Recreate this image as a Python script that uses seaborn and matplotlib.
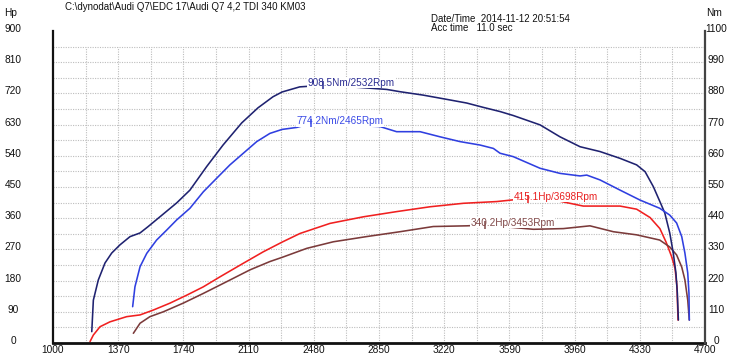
import numpy as np
import pandas as pd
import matplotlib
matplotlib.use("Agg")
import matplotlib.pyplot as plt
from matplotlib.transforms import ScaledTranslation
import seaborn as sns

# ---------------- data ----------------
# tuned torque (Nm)
rpm_tq_tuned = [1220, 1229, 1257, 1295, 1333, 1380, 1437, 1494, 1539, 1607, 1702, 1777, 1872,
                1965, 2071, 2163, 2248, 2300, 2400, 2532, 2674, 2894, 2969, 3100, 3234, 3348,
                3440, 3537, 3612, 3764, 3877, 3991, 4104, 4218, 4312, 4360, 4407, 4450, 4472,
                4500, 4520, 4535, 4543, 4549]
nm_tuned = [40, 151, 222, 282, 317, 346, 375, 388, 410, 445, 494, 539, 622,
            698, 776, 829, 868, 885, 903, 908.5, 904, 894, 886, 874, 859, 846,
            831, 816, 802, 769, 727, 692, 675, 651, 628, 604, 551, 490, 458,
            388, 317, 247, 176, 81]

# stock torque (Nm)
rpm_tq_stock = [1452, 1465, 1494, 1532, 1588, 1645, 1702, 1777, 1853, 1929, 2004, 2080, 2156,
                2231, 2300, 2383, 2465, 2647, 2856, 2950, 3083, 3196, 3310, 3423, 3499, 3537,
                3612, 3764, 3877, 3991, 4029, 4104, 4218, 4331, 4443, 4500, 4539, 4568, 4586,
                4602, 4609, 4611]
nm_stock = [128, 198, 269, 316, 363, 398, 434, 475, 533, 581, 628, 669, 710,
            739, 753, 760, 774.2, 769, 763, 745, 745, 727, 710, 698, 686, 669,
            657, 616, 598, 589, 592, 575, 539, 504, 475, 451, 423, 375, 317,
            247, 176, 81]

# tuned power (Hp)
rpm_hp_tuned = [1210, 1229, 1267, 1323, 1418, 1494, 1569, 1664, 1759, 1853, 1948, 2080, 2193,
                2300, 2402, 2572, 2761, 2950, 3140, 3329, 3518, 3612, 3698, 3839, 4009, 4218,
                4312, 4388, 4444, 4480, 4510, 4530, 4541, 4547]
hp_tuned = [4, 23, 47, 61, 76, 81, 95, 115, 138, 162, 191, 230, 263,
            291, 316, 345, 364, 379, 393, 403, 408, 413, 415.1, 413, 395, 395,
            386, 362, 330, 290, 250, 215, 162, 66]

# stock power (Hp)
rpm_hp_stock = [1456, 1494, 1550, 1626, 1739, 1853, 1986, 2118, 2231, 2300, 2440, 2591, 2780,
                2969, 3158, 3348, 3453, 3594, 3726, 3896, 4047, 4180, 4312, 4443, 4500, 4539,
                4568, 4586, 4602, 4611]
hp_stock = [28, 57, 76, 90, 115, 143, 177, 211, 235, 247, 273, 292, 307,
            321, 336, 338, 340.2, 334, 328, 330, 338, 321, 312, 297, 277, 254,
            219, 182, 124, 66]

# peak annotations
peak_nm_vals = [908.5, 774.2]
peak_nm_rpms = [2532, 2465]
peak_hp_vals = [415.1, 340.2]
peak_hp_rpms = [3698, 3453]

x_ticks = [1000, 1370, 1740, 2110, 2480, 2850, 3220, 3590, 3960, 4330, 4700]
hp_ticks = [0, 90, 180, 270, 360, 450, 540, 630, 720, 810, 900]
nm_ticks = [0, 110, 220, 330, 440, 550, 660, 770, 880, 990, 1100]

title_text = "C:\\dynodat\\Audi Q7\\EDC 17\\Audi Q7 4,2 TDI 340 KM03"
date_text = "Date/Time  2014-11-12 20:51:54"
acc_text = "Acc time   11.0 sec"

# ---------------- style ----------------
sns.set_style("white")
plt.rcParams['font.family'] = ['Liberation Sans', 'DejaVu Sans']

c_navy = '#1f2270'
c_blue = '#2f3fe0'
c_red = '#f02020'
c_brown = '#7b3a3a'
t_navy = '#2a2c92'
t_blue = '#3a4ae6'
t_red = '#e82020'
t_brown = '#804848'

fig = plt.figure(figsize=(7.4, 3.58), dpi=100)
ax = fig.add_axes([53/740, 15/358, 652/740, 312/358])
ax2 = ax.twinx()

ax.set_xlim(1000, 4700)
ax.set_ylim(0, 900)
ax2.set_ylim(0, 1100)

# grid (dotted)
grid_kw = dict(colors='#bdbdbd', linestyles=(0, (1, 1.2)), linewidth=0.8, zorder=0.5)
ax.hlines(np.arange(45, 900, 45), 1000, 4700, **grid_kw)
ax.vlines(np.arange(1185, 4700, 185), 0, 855, **grid_kw)

lw = 1.15
sns.lineplot(x=rpm_hp_tuned, y=hp_tuned, ax=ax, color=c_red, lw=lw, estimator=None, sort=False, zorder=2)
sns.lineplot(x=rpm_hp_stock, y=hp_stock, ax=ax, color=c_brown, lw=lw, estimator=None, sort=False, zorder=2)
sns.lineplot(x=rpm_tq_tuned, y=nm_tuned, ax=ax2, color=c_navy, lw=lw, estimator=None, sort=False, zorder=2)
sns.lineplot(x=rpm_tq_stock, y=nm_stock, ax=ax2, color=c_blue, lw=lw, estimator=None, sort=False, zorder=2)

# annotations
for axx, vals, rpms, unit, cols in [
        (ax2, peak_nm_vals, peak_nm_rpms, 'Nm', [t_navy, t_blue]),
        (ax, peak_hp_vals, peak_hp_rpms, 'Hp', [t_red, t_brown])]:
    for v, r, c in zip(vals, rpms, cols):
        axx.annotate(f"{v}{unit}/{r}Rpm", xy=(r, v), xytext=(-10.8, 1.8),
                     textcoords='offset points', ha='left', va='center',
                     fontsize=7.2, color=c, zorder=5,
                     bbox=dict(fc='white', ec='none', pad=0.4))
        axx.plot([r], [v], marker='|', ms=6, mew=1.1, color=c, zorder=6, ls='none')

# axes / ticks
ax.set_xticks(x_ticks)
ax.set_xticklabels([str(t) for t in x_ticks])
ax.set_yticks(hp_ticks)
ax.set_yticklabels([str(t) for t in hp_ticks])
ax2.set_yticks(nm_ticks)
ax2.set_yticklabels([str(t) for t in nm_ticks])
ax.set_xlabel('')
ax.set_ylabel('')
ax2.set_ylabel('')

ax.tick_params(axis='x', length=0, pad=1.5, labelsize=7.3, colors='#111111')
ax.tick_params(axis='y', length=0, pad=28.8, labelsize=7.3, colors='#111111')
ax2.tick_params(axis='y', length=0, pad=7.9, labelsize=7.3, colors='#111111')

off = ScaledTranslation(0, 0.03, fig.dpi_scale_trans)
for lab in ax.get_yticklabels():
    lab.set_horizontalalignment('center')
    lab.set_transform(lab.get_transform() + off)
for lab in ax2.get_yticklabels():
    lab.set_horizontalalignment('center')
    lab.set_transform(lab.get_transform() + off)

for a in (ax, ax2):
    a.spines['top'].set_visible(False)
ax.spines['right'].set_visible(False)
ax2.spines['left'].set_visible(False)
ax2.spines['bottom'].set_visible(False)
ax.spines['left'].set_color('#111111')
ax.spines['left'].set_linewidth(1.6)
ax.spines['bottom'].set_color('#111111')
ax.spines['bottom'].set_linewidth(2.0)
ax2.spines['right'].set_color('#444444')
ax2.spines['right'].set_linewidth(1.6)
ax.patch.set_alpha(0)

# header texts
fig.text(11/740, 1 - 13/358, 'Hp', fontsize=7.3, ha='center', va='center', color='#111111')
fig.text(714/740, 1 - 13/358, 'Nm', fontsize=7.3, ha='center', va='center', color='#111111')
fig.text(65/740, 1 - 7/358, title_text, fontsize=7.0, ha='left', va='center', color='#111111')
fig.text(431/740, 1 - 19/358, date_text, fontsize=7.0, ha='left', va='center', color='#111111')
fig.text(431/740, 1 - 28/358, acc_text, fontsize=7.0, ha='left', va='center', color='#111111')

fig.savefig('out.png', dpi=100, facecolor='white')
